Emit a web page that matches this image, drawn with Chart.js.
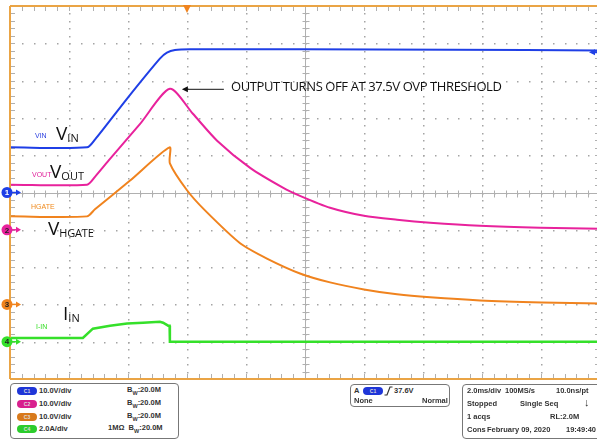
<!DOCTYPE html>
<html>
<head>
<meta charset="utf-8">
<script src="https://cdn.jsdelivr.net/npm/chart.js@4.4.1/dist/chart.umd.min.js"></script>
<style>
body { margin: 0; overflow: hidden; background: #fff; }
#wrap { position: relative; width: 597px; height: 440px; overflow: hidden; font-family: "Liberation Sans", Arial, sans-serif; }
#scope { position: absolute; left: 0; top: 0; }
.lbl { position: absolute; white-space: nowrap; line-height: 1; }
.big { font-family: "Open Sans", sans-serif; color: #111; }
.big span { font-size: 11px; position: relative; top: 2px; }
.box { position: absolute; border: 1px solid #777; border-radius: 4px; background: #fff; }
.pt { position: absolute; white-space: nowrap; font-size: 7.5px; font-weight: bold; color: #333; line-height: 1; }
.pt sub { font-size: 5.5px; }
.badge { position: absolute; width: 20px; height: 8px; border-radius: 4px; font-size: 5px; color: #ddd; text-align: center; line-height: 8px; font-weight: bold; }
</style>
</head>
<body>
<div id="wrap">
<canvas id="scope" width="604" height="440"></canvas>

<!-- trace labels -->
<div class="lbl" style="left:35px;top:132px;font-size:7px;color:#2a3fe0;">VIN</div>
<div class="lbl big" style="left:56px;top:124px;font-size:19px;">V<span>IN</span></div>
<div class="lbl" style="left:32px;top:171px;font-size:7px;color:#e0209a;">VOUT</div>
<div class="lbl big" style="left:50px;top:162px;font-size:19px;">V<span>OUT</span></div>
<div class="lbl" style="left:31px;top:203px;font-size:7px;color:#f08a1c;">HGATE</div>
<div class="lbl big" style="left:48px;top:219px;font-size:19px;">V<span style="letter-spacing:-0.2px;">HGATE</span></div>
<div class="lbl" style="left:36px;top:323px;font-size:7px;color:#33dd22;">I-IN</div>
<div class="lbl big" style="left:63px;top:304px;font-size:19px;">I<span>IN</span></div>
<div class="lbl big" style="left:231px;top:80px;font-size:13px;letter-spacing:-0.4px;">OUTPUT TURNS OFF AT 37.5V OVP THRESHOLD</div>

<!-- readout panel -->
<div class="box" style="left:10px;top:383px;width:167px;height:54px;"></div>
<div class="badge" style="left:17px;top:387px;background:#1f36d8;">C1</div>
<div class="badge" style="left:17px;top:400px;background:#d8208e;">C2</div>
<div class="badge" style="left:17px;top:413px;background:#d87a1c;">C3</div>
<div class="badge" style="left:17px;top:425px;background:#2ccc2c;">C4</div>
<div class="pt" style="left:39px;top:387px;">10.0V/div</div>
<div class="pt" style="left:39px;top:400px;">10.0V/div</div>
<div class="pt" style="left:39px;top:413px;">10.0V/div</div>
<div class="pt" style="left:39px;top:425px;">2.0A/div</div>
<div class="pt" style="left:127px;top:386px;">B<sub>W</sub>:20.0M</div>
<div class="pt" style="left:127px;top:399px;">B<sub>W</sub>:20.0M</div>
<div class="pt" style="left:127px;top:412px;">B<sub>W</sub>:20.0M</div>
<div class="pt" style="left:108px;top:424px;">1MΩ&nbsp;&nbsp;B<sub>W</sub>:20.0M</div>

<div class="box" style="left:350px;top:384px;width:98px;height:21px;"></div>
<div class="pt" style="left:354px;top:387px;">A</div>
<div class="badge" style="left:363px;top:387px;background:#1f36d8;">C1</div>
<svg style="position:absolute;left:384px;top:386px;" width="9" height="10"><polyline points="0.5,9 3,9 6,1 8.5,1" fill="none" stroke="#333" stroke-width="1.2"/></svg>
<div class="pt" style="left:394px;top:387px;">37.6V</div>
<div class="pt" style="left:354px;top:397px;">None</div>
<div class="pt" style="left:422px;top:397px;">Normal</div>

<div class="box" style="left:462px;top:384px;width:140px;height:53px;"></div>
<div class="pt" style="left:467px;top:387px;">2.0ms/div</div>
<div class="pt" style="left:505px;top:387px;">100MS/s</div>
<div class="pt" style="left:556px;top:387px;">10.0ns/pt</div>
<div class="pt" style="left:467px;top:400px;">Stopped</div>
<div class="pt" style="left:520px;top:400px;">Single Seq</div>
<div class="pt" style="left:584px;top:397px;font-size:11px;">&#x2193;</div>
<div class="pt" style="left:467px;top:413px;">1 acqs</div>
<div class="pt" style="left:550px;top:413px;">RL:2.0M</div>
<div class="pt" style="left:467px;top:426px;">Cons</div>
<div class="pt" style="left:487px;top:426px;">February 09, 2020</div>
<div class="pt" style="left:566px;top:426px;">19:49:40</div>
</div>

<script>
// time axis in ms, 2 ms/div, trigger at t = 0
const vinTime  = [-6, -3.39, -3.12, -2.03, -0.92, -0.68, -0.41, 0.1, 3.83, 9.0, 14];
const vinVolts = [12.1, 12.1, 14.2, 25.2, 35.9, 37.5, 38.2, 38.4, 38.4, 38.3, 38.1];

const voutTime  = [-6, -3.39, -3.12, -2.61, -1.59, -0.58, 0.2, 1.02, 2.14, 3.25, 3.83, 4.85, 6.0, 7.12, 8.24, 9.93, 11.97, 14];
const voutVolts = [12.1, 12.1, 14.2, 19.0, 28.4, 37.8, 31.1, 23.9, 16.6, 11.3, 9.1, 5.9, 3.75, 2.7, 1.9, 1.07, 0.54, 0.27];

const hgateTime  = [-6, -3.39, -3.12, -1.93, -0.59, -0.58, 0, 0.61, 1.8, 2.71, 3.83, 4.85, 6.0, 7.12, 8.24, 9.93, 12.03, 14];
const hgateVolts = [23.6, 23.6, 25.5, 33.2, 42.1, 37.8, 30.6, 25.2, 16.4, 12.3, 8.3, 5.9, 4.0, 2.7, 1.9, 1.07, 0.54, 0.27];

const iinTime = [-6, -3.53, -3.19, -2.61, -2.03, -1.49, -0.92, -0.81, -0.64, -0.59, -0.58, 14];
const iinAmps = [0.2, 0.2, 0.7, 0.86, 0.97, 1.02, 1.07, 1.02, 0.86, 0.86, 0.0, 0.0];

// channel settings: ground position (div from bottom) and units per div
const chGround = [5, 4, 2, 1];
const chScale = [10, 10, 10, 2];
const chColor = ['#1f3fe6', '#e8229c', '#f0831e', '#35e02a'];

function toDiv(times, vals, ch) {
    return times.map((t, i) => ({ x: t, y: chGround[ch] + vals[i] / chScale[ch] }));
}

function trace(label, data, ch, width, tension) {
    return {
        label: label,
        data: data,
        borderColor: chColor[ch],
        borderWidth: width,
        pointRadius: 0,
        tension: tension,
        fill: false
    };
}

const scopeDeco = {
    id: 'scopeDeco',
    beforeDatasetsDraw(chart) {
        const { ctx, chartArea: a, scales: { x, y } } = chart;
        const cx = Math.round(x.getPixelForValue(4)) + 0.5;
        const cy = Math.round(y.getPixelForValue(5)) + 0.5;
        ctx.save();

        // dotted graticule, one dot every 1/5 division
        ctx.fillStyle = '#a4a4a4';
        for (let k = 1; k < 10; k++) {
            const gx = Math.round(x.getPixelForValue(-6 + k * 2));
            const gy = Math.round(y.getPixelForValue(k));
            for (let i = 1; i < 50; i++) {
                ctx.fillRect(gx, Math.round(y.getPixelForValue(i * 0.2)), 1.5, 1.5);
                ctx.fillRect(Math.round(x.getPixelForValue(-6 + i * 0.4)), gy, 1.5, 1.5);
            }
        }

        // solid centre cross and minor ticks
        ctx.strokeStyle = '#b0b0b0';
        ctx.lineWidth = 1;
        ctx.beginPath();
        ctx.moveTo(a.left, cy); ctx.lineTo(a.right, cy);
        ctx.moveTo(cx, a.top); ctx.lineTo(cx, a.bottom);
        for (let i = 0; i <= 50; i++) {
            const px = Math.round(x.getPixelForValue(-6 + i * 0.4)) + 0.5;
            ctx.moveTo(px, cy - 3); ctx.lineTo(px, cy + 4);
            ctx.moveTo(px, a.top); ctx.lineTo(px, a.top + 5);
            ctx.moveTo(px, a.bottom); ctx.lineTo(px, a.bottom - 5);
        }
        for (let i = 0; i <= 50; i++) {
            const py = Math.round(y.getPixelForValue(i * 0.2)) + 0.5;
            ctx.moveTo(cx - 3, py); ctx.lineTo(cx + 4, py);
            ctx.moveTo(a.left, py); ctx.lineTo(a.left + 5, py);
            ctx.moveTo(a.right, py); ctx.lineTo(a.right - 5, py);
        }
        ctx.stroke();
        ctx.restore();
    },
    afterDatasetsDraw(chart) {
        const { ctx, chartArea: a, scales: { x, y } } = chart;
        ctx.save();
        // orange graticule frame
        ctx.strokeStyle = '#eaa445';
        ctx.lineWidth = 2;
        ctx.beginPath();
        ctx.moveTo(a.left, a.top); ctx.lineTo(a.right, a.top);
        ctx.moveTo(a.left, a.top); ctx.lineTo(a.left, a.bottom);
        ctx.moveTo(a.left, a.bottom); ctx.lineTo(a.right, a.bottom);
        ctx.stroke();

        // trigger position marker
        const tx = x.getPixelForValue(0);
        ctx.fillStyle = '#f0831e';
        ctx.beginPath();
        ctx.moveTo(tx - 4, a.top - 1); ctx.lineTo(tx + 4, a.top - 1); ctx.lineTo(tx, a.top + 7);
        ctx.closePath();
        ctx.fill();

        // trigger level marker (C1 37.6 V)
        const ty = y.getPixelForValue(chGround[0] + 37.6 / chScale[0]);
        ctx.fillStyle = chColor[0];
        ctx.beginPath();
        ctx.moveTo(589, ty); ctx.lineTo(595, ty - 3); ctx.lineTo(595, ty + 3);
        ctx.closePath();
        ctx.fill();
        ctx.fillRect(594, ty - 1, 4, 2);

        // ground markers
        ctx.font = 'bold 8px "Liberation Sans", Arial';
        ctx.textAlign = 'center';
        ctx.textBaseline = 'middle';
        chGround.forEach((g, i) => {
            const gy = y.getPixelForValue(g);
            ctx.fillStyle = chColor[i];
            ctx.strokeStyle = chColor[i];
            ctx.lineWidth = 1.5;
            ctx.beginPath();
            ctx.moveTo(12, gy); ctx.lineTo(17, gy);
            ctx.stroke();
            ctx.beginPath();
            ctx.moveTo(21, gy); ctx.lineTo(16, gy - 3); ctx.lineTo(16, gy + 3);
            ctx.closePath();
            ctx.fill();
            ctx.beginPath();
            ctx.arc(7, gy, 5.5, 0, Math.PI * 2);
            ctx.fill();
            ctx.fillStyle = i === 0 ? '#fff' : '#222';
            ctx.fillText(String(i + 1), 7, gy + 0.5);
        });

        // annotation arrow to the Vout peak
        const px = x.getPixelForValue(-0.58) + 12;
        const py = y.getPixelForValue(chGround[1] + 37.8 / chScale[1]);
        ctx.strokeStyle = '#111';
        ctx.fillStyle = '#111';
        ctx.lineWidth = 1;
        ctx.beginPath();
        ctx.moveTo(px + 4, py + 0.5); ctx.lineTo(px + 42, py + 0.5);
        ctx.stroke();
        ctx.beginPath();
        ctx.moveTo(px, py + 0.5); ctx.lineTo(px + 6, py - 2.5); ctx.lineTo(px + 6, py + 3.5);
        ctx.closePath();
        ctx.fill();
        ctx.restore();
    }
};

new Chart(document.getElementById('scope'), {
    type: 'line',
    data: {
        datasets: [
            trace('VIN', toDiv(vinTime, vinVolts, 0), 0, 2, 0.25),
            trace('VOUT', toDiv(voutTime, voutVolts, 1), 1, 2, 0.25),
            trace('HGATE', toDiv(hgateTime, hgateVolts, 2), 2, 2, 0.25),
            trace('I-IN', toDiv(iinTime, iinAmps, 3), 3, 2.5, 0)
        ]
    },
    options: {
        responsive: false,
        animation: false,
        layout: { padding: { left: 10, top: 6, right: 4, bottom: 61 } },
        plugins: { legend: { display: false }, tooltip: { enabled: false } },
        scales: {
            x: {
                type: 'linear',
                min: -6,
                max: 14,
                ticks: { display: false, stepSize: 2 },
                grid: { display: false, drawTicks: false },
                border: { display: false }
            },
            y: {
                min: 0,
                max: 10,
                ticks: { display: false, stepSize: 1 },
                grid: { display: false, drawTicks: false },
                border: { display: false }
            }
        }
    },
    plugins: [scopeDeco]
});
</script>
</body>
</html>
